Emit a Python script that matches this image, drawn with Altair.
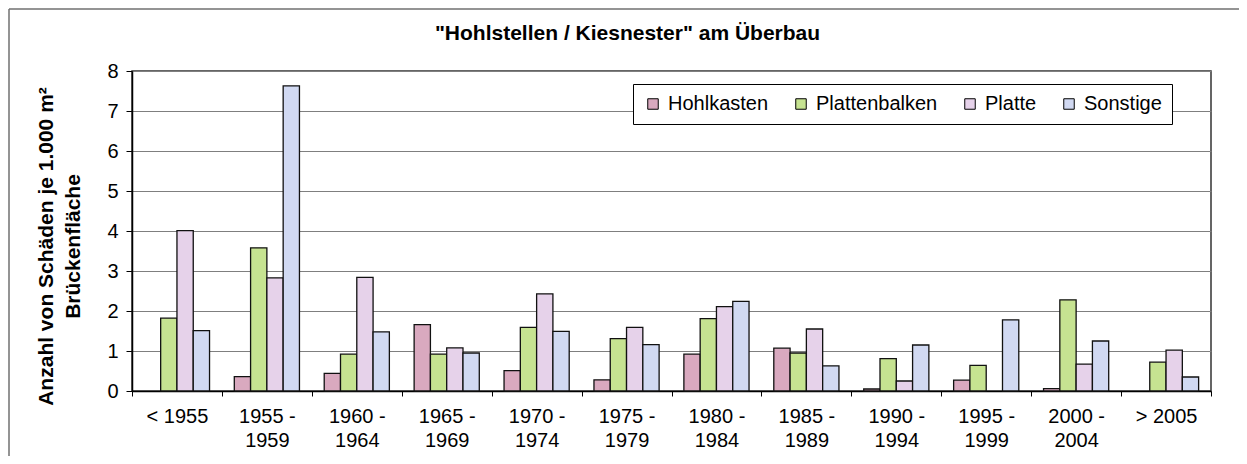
import altair as alt
import pandas as pd

# ---------------- data ----------------
categories = ["< 1955", "1955 - 1959", "1960 - 1964", "1965 - 1969", "1970 - 1974",
              "1975 - 1979", "1980 - 1984", "1985 - 1989", "1990 - 1994",
              "1995 - 1999", "2000 - 2004", "> 2005"]
series_names = ["Hohlkasten", "Plattenbalken", "Platte", "Sonstige"]
hohlkasten = [None, 0.36, 0.44, 1.66, 0.51, 0.28, 0.92, 1.07, 0.05, 0.27, 0.06, None]
plattenbalken = [1.82, 3.58, 0.92, 0.92, 1.59, 1.31, 1.81, 0.95, 0.81, 0.64, 2.28, 0.72]
platte = [4.01, 2.83, 2.84, 1.08, 2.43, 1.59, 2.11, 1.55, 0.25, None, 0.67, 1.02]
sonstige = [1.51, 7.63, 1.48, 0.95, 1.49, 1.16, 2.24, 0.63, 1.15, 1.78, 1.25, 0.35]
y_ticks = [0, 1, 2, 3, 4, 5, 6, 7, 8]
series_colors = ["#d9a9bf", "#c6e391", "#e6d2ea", "#d1d9f2"]

rows = []
for name, vals in zip(series_names, [hohlkasten, plattenbalken, platte, sonstige]):
    for cat, v in zip(categories, vals):
        if v is not None:
            rows.append({"Baujahr": cat, "Typ": name, "Wert": v})
df = pd.DataFrame(rows)

FONT = "Liberation Sans"

label_expr = ("indexof(datum.label, ' - ') > 0 ? "
              "[split(datum.label, ' - ')[0] + ' -', split(datum.label, ' - ')[1]] : datum.label")

bars = alt.Chart(df).mark_bar(stroke="#111111", strokeWidth=1.3).encode(
    x=alt.X("Baujahr:N", sort=categories,
            scale=alt.Scale(paddingInner=0, paddingOuter=0),
            axis=alt.Axis(title=None, labelAngle=0, labelExpr=label_expr,
                          labelFontSize=20, labelLineHeight=24, labelPadding=10,
                          tickSize=5, tickBand="extent", tickColor="black",
                          domainColor="black", domainWidth=1.5, grid=False,
                          labelColor="black")),
    xOffset=alt.XOffset("Typ:N", sort=series_names,
                        scale=alt.Scale(paddingInner=0, paddingOuter=0.76)),
    y=alt.Y("Wert:Q", scale=alt.Scale(domain=[0, 8], nice=False),
            axis=alt.Axis(values=y_ticks, format="d",
                          title=["Anzahl von Schäden je 1.000 m²", "Brückenfläche"],
                          titleFontSize=21, titleFontWeight="bold", titleLineHeight=27,
                          titleX=-76, titleY=175, titleColor="black",
                          labelFontSize=20, labelPadding=8, labelColor="black",
                          tickSize=6, tickColor="black", domainColor="black",
                          domainWidth=1.5, gridColor="#7f7f7f", gridWidth=1)),
    color=alt.Color("Typ:N", sort=series_names,
                    scale=alt.Scale(domain=series_names, range=series_colors),
                    legend=alt.Legend(title=None, orient="none", legendX=501, legendY=13,
                                      direction="horizontal", columns=4,
                                      fillColor="white", strokeColor="black",
                                      padding=10, columnPadding=22,
                                      symbolType="square", symbolSize=110,
                                      symbolStrokeColor="black", symbolStrokeWidth=1,
                                      labelFontSize=20, labelColor="black",
                                      labelOffset=5)),
)

frame_top = alt.Chart(alt.Data(values=[{}])).mark_rule(
    stroke="#707070", strokeWidth=1.5, clip=False
).encode(x=alt.value(-123), x2=alt.value(1110), y=alt.value(-62))

frame_left = alt.Chart(alt.Data(values=[{}])).mark_rule(
    stroke="#707070", strokeWidth=1.5, clip=False
).encode(x=alt.value(-123), y=alt.value(-62), y2=alt.value(390))

chart = alt.layer(frame_top, frame_left, bars).properties(
    width=1079, height=320,
    title=alt.TitleParams('"Hohlstellen / Kiesnester" am Überbau', fontSize=21,
                          fontWeight="bold", font=FONT, color="black",
                          anchor="middle", dx=-44, dy=36, offset=0),
    autosize=alt.AutoSizeParams(type="none"),
    padding={"left": 124, "top": 63, "right": 28, "bottom": 65},
).configure(
    font=FONT,
    background="white",
).configure_view(
    stroke="#333333", strokeWidth=1.5,
).configure_axis(
    labelFont=FONT, titleFont=FONT,
).configure_legend(
    labelFont=FONT,
)

chart.save("out.html", embed_options={"renderer": "svg", "actions": False})
